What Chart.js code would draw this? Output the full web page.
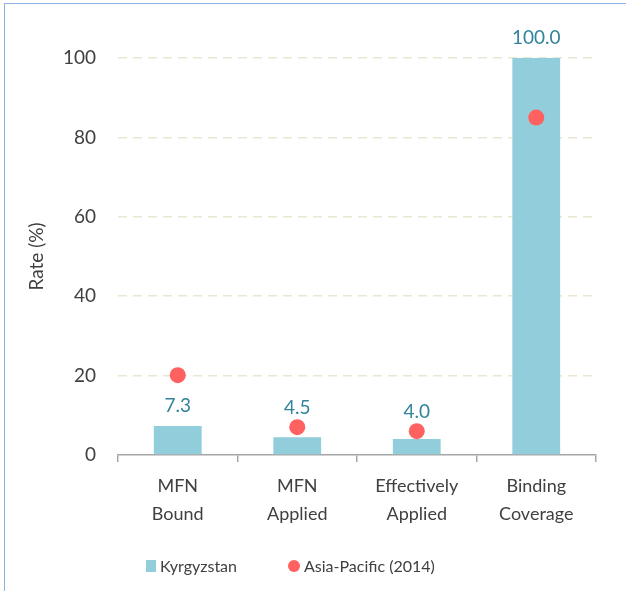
<!DOCTYPE html>
<html><head><meta charset="utf-8">
<script src="https://cdn.jsdelivr.net/npm/chart.js@4/dist/chart.umd.min.js"></script>
<style>
html,body{margin:0;padding:0;background:#fff;width:626px;height:591px;overflow:hidden;}
#wrap{position:absolute;left:0;top:0;width:626px;height:591px;}
#frame{position:absolute;left:4px;top:3px;width:640px;height:600px;border-top:1.5px solid #8EB2E4;border-left:1.5px solid #8EB2E4;pointer-events:none;}
</style></head><body>
<div id="wrap"><canvas id="c" width="626" height="591"></canvas></div>
<div id="frame"></div>
<script>
const categories = [["MFN","Bound"],["MFN","Applied"],["Effectively","Applied"],["Binding","Coverage"]];
const kyrgyzstan = [7.3, 4.5, 4.0, 100.0];
const asiaPacific = [20.1, 7.0, 6.0, 85.0];
const yTicks = [0, 20, 40, 60, 80, 100];

const FONT = "Lato, 'Open Sans', sans-serif";

const labelPlugin = {
  id: 'barLabels',
  afterDatasetsDraw(chart) {
    const ctx = chart.ctx;
    const meta = chart.getDatasetMeta(0);
    const dots = chart.getDatasetMeta(1);
    ctx.save();
    ctx.font = "19px " + FONT;
    ctx.fillStyle = "#31849B";
    ctx.textAlign = "center";
    ctx.textBaseline = "bottom";
    meta.data.forEach((el, i) => {
      let y = el.y - 11;
      const d = dots.data[i];
      // keep the label clear of a marker sitting just above the bar
      if (d && d.y < el.y && d.y > el.y - 30) y = Math.min(y, d.y - 10);
      ctx.fillText(kyrgyzstan[i].toFixed(1), el.x, y);
    });
    ctx.restore();
  }
};

// legend drawn below the axis, items taken from the datasets
const legendPlugin = {
  id: 'bottomLegend',
  afterDraw(chart) {
    const ctx = chart.ctx;
    const ds = chart.data.datasets;
    const y = 566;
    let x = 146;
    ctx.save();
    ctx.font = "16px " + FONT;
    ctx.textBaseline = "middle";
    ctx.textAlign = "left";
    ds.forEach((d, i) => {
      const col = d.pointBackgroundColor || d.backgroundColor;
      ctx.fillStyle = col;
      if (i === 0) {
        ctx.fillRect(x, y - 6, 10, 12);
        x += 14;
      } else {
        ctx.beginPath();
        ctx.arc(x + 6, y, 6, 0, Math.PI * 2);
        ctx.fill();
        x += 16;
      }
      ctx.fillStyle = '#404040';
      ctx.fillText(d.label, x, y + 1);
      x += ctx.measureText(d.label).width + 51;
    });
    ctx.restore();
  }
};

new Chart(document.getElementById('c'), {
  type: 'bar',
  data: {
    labels: categories,
    datasets: [
      { label: 'Kyrgyzstan', data: kyrgyzstan, backgroundColor: '#92CDDC', borderWidth: 0,
        categoryPercentage: 1, barPercentage: 0.4, order: 1 },
      { type: 'line', label: 'Asia-Pacific (2014)', data: asiaPacific, showLine: false,
        pointRadius: 8, pointHoverRadius: 8, pointBackgroundColor: '#FF6161', pointBorderWidth: 0,
        borderColor: '#FF6161', backgroundColor: '#FF6161', order: 0, pointStyle: 'circle' }
    ]
  },
  options: {
    responsive: false,
    animation: false,
    events: [],
    layout: { padding: { left: 0, right: 30, top: 58, bottom: 0 } },
    plugins: {
      tooltip: { enabled: false },
      legend: { display: false }
    },
    scales: {
      x: {
        offset: true,
        grid: { display: true, drawOnChartArea: false, drawTicks: true, tickLength: 7, color: '#A6A6A6', lineWidth: 1.5 },
        border: { display: true, color: '#A6A6A6', width: 1.5 },
        ticks: { color: '#404040', font: { family: FONT, size: 18, lineHeight: 1.55 }, padding: 10, maxRotation: 0, autoSkip: false },
        afterFit(s) { s.height = 136; }
      },
      y: {
        min: 0, max: 100,
        afterBuildTicks(s) { s.ticks = yTicks.map(v => ({ value: v })); },
        grid: { drawTicks: false, color: ctx => ctx.tick && ctx.tick.value === 0 ? 'rgba(0,0,0,0)' : '#E8E8D2', lineWidth: 1.5 },
        border: { display: false, dash: [9, 6] },
        ticks: { color: '#404040', font: { family: FONT, size: 19 }, padding: 22 },
        title: { display: true, text: 'Rate (%)', color: '#404040', font: { family: FONT, size: 19 }, padding: { top: 25, bottom: 0 } },
        afterFit(s) { s.width = 118; }
      }
    }
  },
  plugins: [labelPlugin, legendPlugin]
});
</script>
</body></html>
